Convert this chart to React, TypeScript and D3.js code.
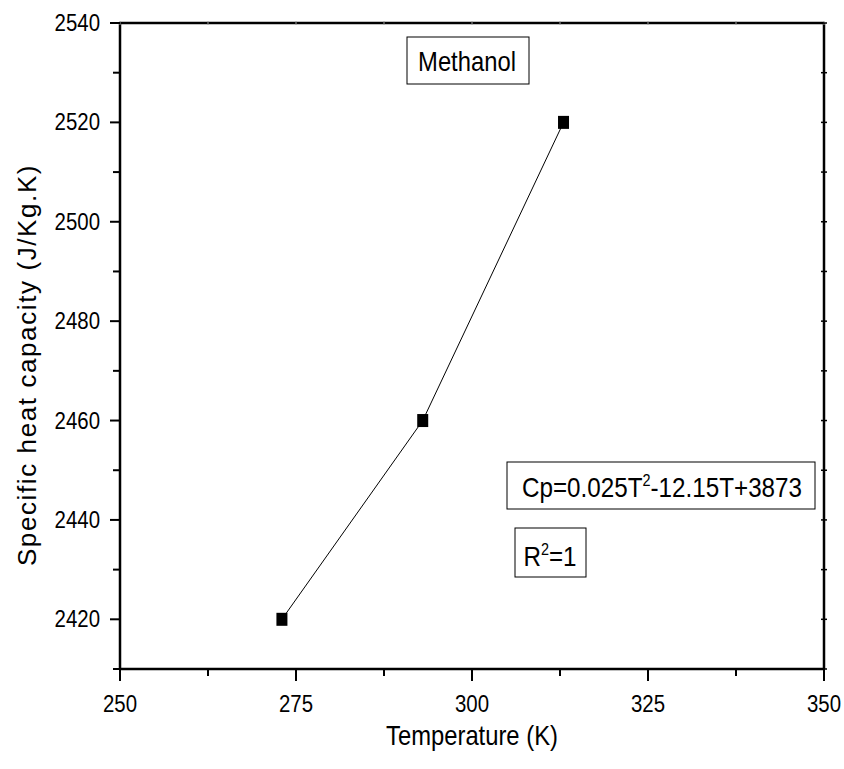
import React from "react";
import * as d3 from "d3";

const temperatures = [273, 293, 313];
const heatCapacity = [2420, 2460, 2520];
const xTicks = [250, 275, 300, 325, 350];
const yTicks = [2420, 2440, 2460, 2480, 2500, 2520, 2540];
const titleText = "Methanol";
const xLabel = "Temperature (K)";
const yLabel = "Specific heat capacity  (J/Kg.K)";

const W = 844, H = 769;
const L = 120, R = 824, T = 23, B = 669;
const FONT = "'Liberation Sans', Arial, sans-serif";
const SX = 0.85;

function Txt({ x, y, size, anchor = "middle", children }: any) {
  return (
    <text
      transform={`translate(${x},${y}) scale(${SX},1)`}
      textAnchor={anchor}
      fontSize={size}
      fill="#000"
    >
      {children}
    </text>
  );
}

export default function App() {
  const x = d3.scaleLinear().domain([250, 350]).range([L, R]);
  const y = d3.scaleLinear().domain([2410, 2540]).range([B, T]);
  const xMinor = d3.range(250, 351, 12.5).filter((v) => !xTicks.includes(v));
  const yMinor = d3.range(2410, 2541, 10).filter((v) => !yTicks.includes(v));
  const yAll = d3.range(2410, 2541, 10);
  const line = d3.line<number>().x((d, i) => x(temperatures[i])).y((d) => y(d));
  return (
    <svg width={W} height={H} style={{ position: "absolute", left: 0, top: 0 }} fontFamily={FONT}>
      <rect width={W} height={H} fill="#fff" />
      {/* frame */}
      <line x1={L} x2={R} y1={T} y2={T} stroke="#000" strokeWidth={2.5} />
      <line x1={R} x2={R} y1={T} y2={B} stroke="#000" strokeWidth={2.5} />
      <line x1={L} x2={L} y1={T} y2={B} stroke="#000" strokeWidth={2.5} />
      <line x1={L} x2={R} y1={B} y2={B} stroke="#000" strokeWidth={2.5} />
      {/* bottom ticks */}
      {xTicks.map((v) => (
        <g key={"xt" + v}>
          <line x1={x(v)} x2={x(v)} y1={B} y2={B + 12} stroke="#000" strokeWidth={2} />
          <Txt x={x(v)} y={712} size={24}>{v}</Txt>
        </g>
      ))}
      {xMinor.map((v) => (
        <line key={"xm" + v} x1={x(v)} x2={x(v)} y1={B} y2={B + 7} stroke="#000" strokeWidth={2} />
      ))}
      {/* top small ticks */}
      {d3.range(250, 351, 12.5).map((v) => (
        <line key={"tt" + v} x1={x(v)} x2={x(v)} y1={T - 2} y2={T + 2} stroke="#999" strokeWidth={1} />
      ))}
      {/* left ticks */}
      {yTicks.map((v) => (
        <g key={"yt" + v}>
          <line x1={L - 10} x2={L} y1={y(v)} y2={y(v)} stroke="#000" strokeWidth={2} />
          <Txt x={100} y={y(v) + 8} size={24} anchor="end">{v}</Txt>
        </g>
      ))}
      {yMinor.map((v) => (
        <line key={"ym" + v} x1={L - 7} x2={L} y1={y(v)} y2={y(v)} stroke="#000" strokeWidth={2} />
      ))}
      {/* right small ticks */}
      {yAll.map((v) => (
        <line key={"rt" + v} x1={R - 3} x2={R + 3} y1={y(v)} y2={y(v)} stroke="#000" strokeWidth={1.5} />
      ))}
      {/* data */}
      <path d={line(heatCapacity) || ""} fill="none" stroke="#000" strokeWidth={1} />
      {heatCapacity.map((v, i) => (
        <rect key={"p" + i} x={x(temperatures[i]) - 5.5} y={y(v) - 6.5} width={11} height={13} fill="#000" />
      ))}
      {/* axis titles */}
      <Txt x={(L + R) / 2} y={745} size={28}>{xLabel}</Txt>
      <text
        transform={`translate(36, 365) rotate(-90)`}
        textAnchor="middle"
        fontSize={26}
        letterSpacing={1.6}
      >
        {yLabel}
      </text>
      {/* Methanol box */}
      <rect x={407} y={37} width={122} height={47} fill="#fff" stroke="#000" strokeWidth={1} />
      <Txt x={467} y={71} size={28}>{titleText}</Txt>
      {/* equation box */}
      <rect x={507} y={462} width={308} height={47} fill="#fff" stroke="#000" strokeWidth={1} />
      <Txt x={662} y={497} size={28.5}>
        Cp=0.025T<tspan dy={-11} fontSize={17}>2</tspan><tspan dy={11}>-12.15T+3873</tspan>
      </Txt>
      {/* R2 box */}
      <rect x={515} y={528} width={71} height={49} fill="#fff" stroke="#000" strokeWidth={1} />
      <Txt x={550} y={566} size={28.5}>
        R<tspan dy={-11} fontSize={17}>2</tspan><tspan dy={11}>=1</tspan>
      </Txt>
    </svg>
  );
}
